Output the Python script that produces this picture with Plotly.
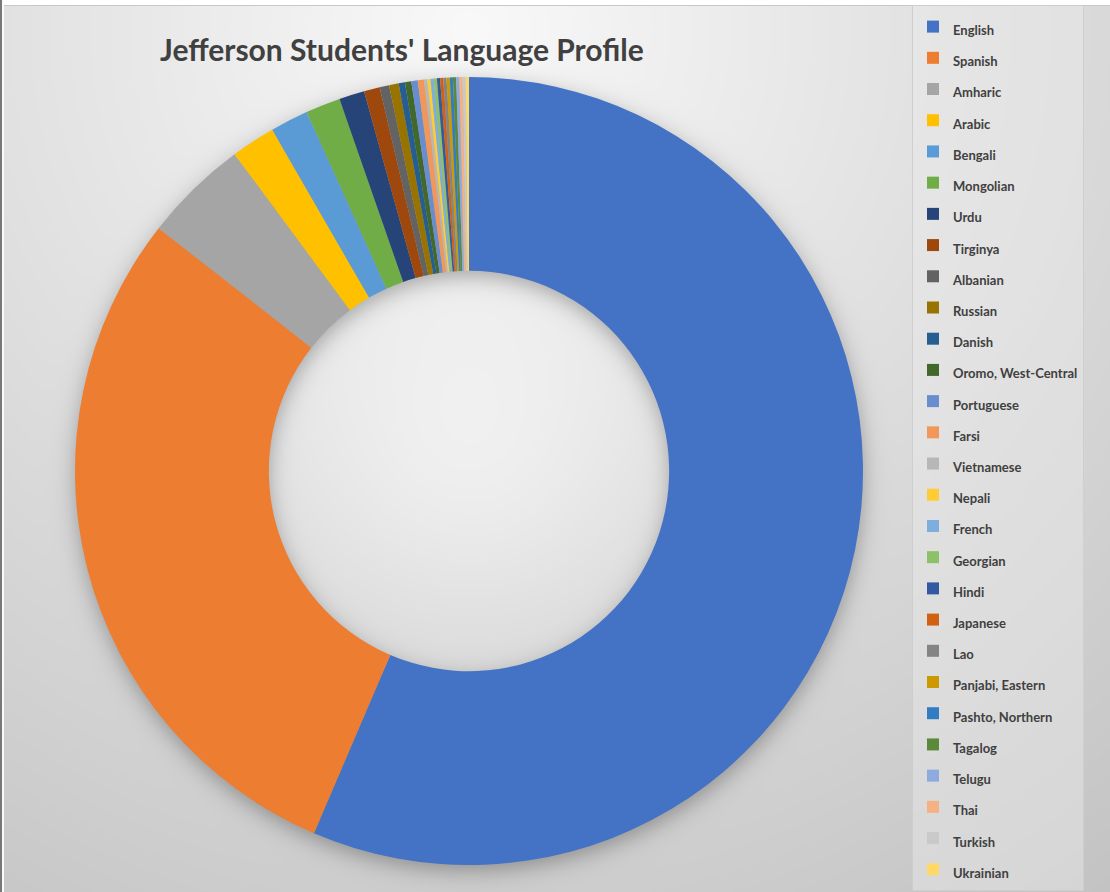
import base64
import struct
import zlib

import numpy as np
import plotly.graph_objects as go

# ---------------- data ----------------
languages = [
    "English", "Spanish", "Amharic", "Arabic", "Bengali", "Mongolian", "Urdu",
    "Tirginya", "Albanian", "Russian", "Danish", "Oromo, West-Central",
    "Portuguese", "Farsi", "Vietnamese", "Nepali", "French", "Georgian",
    "Hindi", "Japanese", "Lao", "Panjabi, Eastern", "Pashto, Northern",
    "Tagalog", "Telugu", "Thai", "Turkish", "Ukrainian",
]
students = [
    434, 224, 33, 14, 12, 11, 8,
    5, 3, 3, 2, 2,
    2, 2, 1, 1, 1, 1,
    1, 1, 1, 1, 1,
    1, 1, 1, 1, 1,
]
slice_colors = [
    "#4472C4", "#ED7D31", "#A5A5A5", "#FFC000", "#5B9BD5", "#70AD47", "#264478",
    "#9E480E", "#636363", "#997300", "#255E91", "#43682B",
    "#698ED0", "#F1975A", "#B7B7B7", "#FFCD33", "#7CAFDD", "#8CC168",
    "#335AA1", "#D26012", "#848484", "#CC9A00", "#327DC2",
    "#5A8A39", "#8FAADC", "#F4B183", "#C9C9C9", "#FFD966",
]
title_text = "Jefferson Students' Language Profile"

# ---------------- geometry / style ----------------
W, H = 1110, 892
CX, CY, R_OUT = 469, 471, 394       # donut centre / radius in pixels
HOLE = 0.508

# ---------------- background image (gradient + soft shadow) ----------------
yy, xx = np.mgrid[0:H, 0:W].astype(np.float64)
dist_light = np.hypot(xx - 470, yy - 30)
base = np.clip(249 - 0.050 * dist_light, 190, 250)

# lighter hole centre
r_in = R_OUT * HOLE
d_c = np.hypot(xx - CX, yy - CY)
base = base + 12 * np.exp(-(d_c / (0.8 * r_in)) ** 2)

# soft drop shadow under the ring
sh_off, sigma = 6.0, 6.5
d = np.hypot(xx - CX, yy - (CY + sh_off))
a_out = 1.0 / (1.0 + np.exp((d - R_OUT) / sigma))
a_in = 1.0 / (1.0 + np.exp((r_in - d) / sigma))
shadow = 0.30 * a_out * a_in
img = base * (1 - shadow)

img = np.repeat(img[:, :, None], 3, axis=2)
# spreadsheet frame artefacts
img[0:5, :, :] = 255
img[5, :, :] = 200
img[:, 0:2, :] = 120
img[:, 2:4, :] = 250
img = np.clip(img, 0, 255).astype(np.uint8)


def png_data_uri(arr):
    h, w, _ = arr.shape
    a = arr.astype(np.int16)
    diff = a.copy()
    diff[:, 1:, :] = a[:, 1:, :] - a[:, :-1, :]
    diff = (diff % 256).astype(np.uint8)
    raw = np.concatenate(
        [np.ones((h, 1), np.uint8), diff.reshape(h, w * 3)], axis=1
    ).tobytes()

    def chunk(t, dat):
        c = struct.pack(">I", len(dat)) + t + dat
        return c + struct.pack(">I", zlib.crc32(t + dat) & 0xFFFFFFFF)

    png = (
        b"\x89PNG\r\n\x1a\n"
        + chunk(b"IHDR", struct.pack(">IIBBBBB", w, h, 8, 2, 0, 0, 0))
        + chunk(b"IDAT", zlib.compress(raw, 9))
        + chunk(b"IEND", b"")
    )
    return "data:image/png;base64," + base64.b64encode(png).decode()


bg_uri = png_data_uri(img)

# ---------------- figure ----------------
legend_labels = [
    f'<span style="font-size:13px">{lang}</span>' for lang in languages
]

fig = go.Figure(
    go.Pie(
        labels=legend_labels,
        values=students,
        sort=False,
        direction="clockwise",
        rotation=0,
        hole=HOLE,
        marker=dict(colors=slice_colors, line=dict(width=0)),
        textinfo="none",
        hovertemplate="%{label}: %{value} (%{percent})<extra></extra>",
        domain=dict(
            x=[(CX - R_OUT) / W, (CX + R_OUT) / W],
            y=[1 - (CY + R_OUT) / H, 1 - (CY - R_OUT) / H],
        ),
    )
)

fig.update_layout(
    width=W,
    height=H,
    margin=dict(l=0, r=0, t=0, b=0),
    paper_bgcolor="#e2e2e2",
    plot_bgcolor="rgba(0,0,0,0)",
    font=dict(family="Lato, Open Sans, sans-serif", color="#404040"),
    images=[
        dict(
            source=bg_uri,
            xref="paper", yref="paper",
            x=0, y=1, sizex=1, sizey=1,
            xanchor="left", yanchor="top",
            sizing="stretch", layer="below",
        )
    ],
    legend=dict(
        x=912 / W, y=1 - 5 / H,
        xanchor="left", yanchor="top",
        bgcolor="rgba(236,236,236,0.45)",
        bordercolor="rgba(205,205,205,0.9)",
        borderwidth=1,
        font=dict(size=21.7, family="Lato, Open Sans, sans-serif",
                  color="#404040", weight="bold"),
        itemclick=False, itemdoubleclick=False,
    ),
    annotations=[
        dict(
            text=f"<b>{title_text}</b>",
            x=402 / W, y=1 - 49 / H,
            xref="paper", yref="paper",
            xanchor="center", yanchor="middle",
            showarrow=False,
            font=dict(size=30, family="Lato, Open Sans, sans-serif",
                      color="#404040"),
        )
    ],
)

fig.write_html(
    "out.html",
    config={"displayModeBar": False},
    post_script="document.body.style.margin='0px';"
                "document.body.style.overflow='hidden';",
)
